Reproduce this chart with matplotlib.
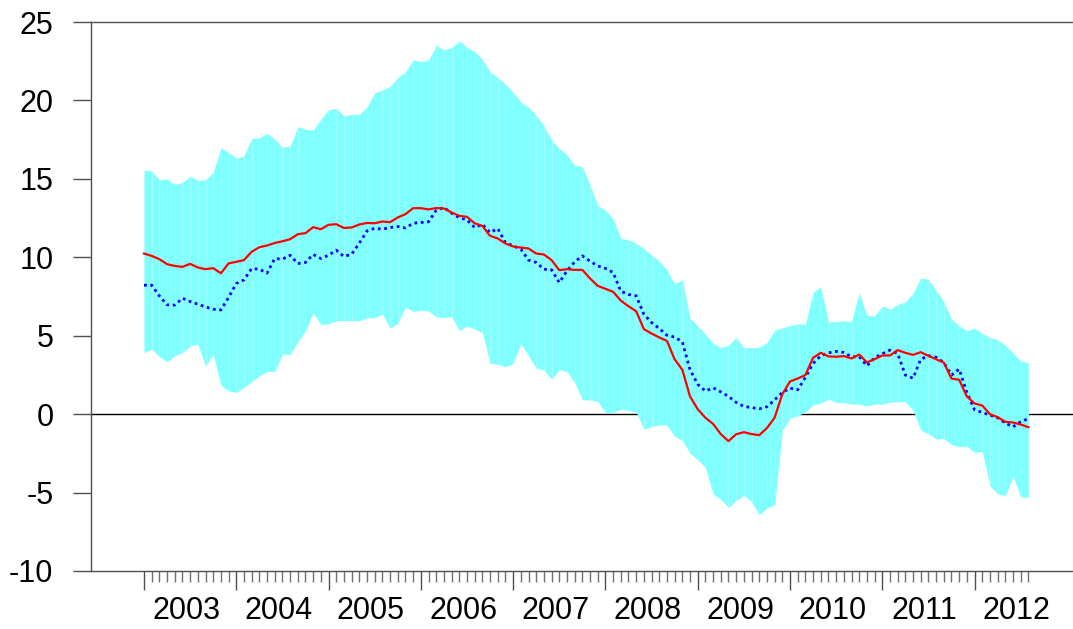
import numpy as np
import matplotlib
matplotlib.use("Agg")
from matplotlib import pyplot as plt
from matplotlib.ticker import FixedLocator, NullFormatter

plt.rcParams['font.family'] = ['Liberation Sans', 'DejaVu Sans']

# DATA: monthly, Jan 2003 .. Aug 2012
YEARS = [2003, 2004, 2005, 2006, 2007, 2008, 2009, 2010, 2011, 2012]

band_upper = [
    15.57, 15.5, 14.93, 15.0, 14.64, 14.77, 15.17, 14.91, 14.93, 15.4,
    17.0, 16.68, 16.3, 16.47, 17.57, 17.63, 17.9, 17.53, 17.0, 17.1,
    18.33, 18.16, 18.1, 18.8, 19.4, 19.5, 19.0, 19.12, 19.1, 19.59,
    20.5, 20.65, 20.9, 21.46, 21.82, 22.58, 22.48, 22.56, 23.52, 23.22,
    23.37, 23.8, 23.37, 23.11, 22.63, 21.82, 21.46, 21.03, 20.5, 19.91,
    19.55, 19.06, 18.38, 17.48, 16.93, 16.53, 15.87, 15.79, 14.6, 13.3,
    13.0, 12.45, 11.2, 11.12, 10.9, 10.55, 10.15, 9.75, 9.2, 8.3,
    8.57, 6.13, 5.63, 5.1, 4.53, 4.25, 4.38, 4.89, 4.25, 4.25,
    4.25, 4.57, 5.35, 5.5, 5.65, 5.74, 5.74, 7.75, 8.14, 5.88,
    5.91, 5.95, 5.91, 7.75, 6.27, 6.27, 6.9, 6.69, 6.99, 7.16,
    7.69, 8.69, 8.58, 7.9, 7.16, 6.05, 5.63, 5.31, 5.48, 5.16,
    4.89, 4.74, 4.4, 3.89, 3.4, 3.27,
]

band_lower = [
    3.93, 4.14, 3.68, 3.34, 3.72, 3.93, 4.35, 4.46, 3.04, 3.82,
    1.85, 1.49, 1.38, 1.7, 2.08, 2.44, 2.72, 2.72, 3.82, 3.8,
    4.6, 5.3, 6.48, 5.69, 5.78, 5.94, 5.98, 5.96, 5.95, 6.14,
    6.15, 6.38, 5.47, 5.8, 6.84, 6.55, 6.62, 6.57, 6.2, 6.15,
    6.22, 5.31, 5.63, 5.42, 5.21, 3.23, 3.19, 3.02, 3.23, 4.5,
    3.72, 2.93, 2.83, 2.23, 2.83, 2.72, 2.02, 0.91, 0.91, 0.81,
    0.1, 0.1, 0.32, 0.23, 0.13, -0.96, -0.79, -0.68, -0.7, -1.42,
    -1.68, -2.49, -2.91, -3.4, -5.1, -5.42, -5.95, -5.5, -5.18, -5.57,
    -6.42, -5.99, -5.76, -1.06, -0.25, -0.11, 0.15, 0.6, 0.7, 0.96,
    0.74, 0.74, 0.64, 0.64, 0.51, 0.64, 0.63, 0.76, 0.79, 0.79,
    0.25, -1.02, -1.25, -1.59, -1.55, -1.95, -2.08, -2.04, -2.44, -2.38,
    -4.57, -5.08, -5.2, -3.93, -5.27, -5.31,
]

red_line = [
    10.24, 10.09, 9.88, 9.56, 9.45, 9.39, 9.58, 9.35, 9.24, 9.31,
    8.98, 9.61, 9.71, 9.82, 10.35, 10.64, 10.75, 10.91, 11.02, 11.15,
    11.47, 11.54, 11.92, 11.79, 12.07, 12.11, 11.87, 11.9, 12.09, 12.19,
    12.17, 12.28, 12.24, 12.54, 12.75, 13.13, 13.13, 13.05, 13.14, 13.11,
    12.86, 12.64, 12.58, 12.17, 12.0, 11.37, 11.2, 10.88, 10.69, 10.62,
    10.56, 10.24, 10.18, 9.82, 9.18, 9.24, 9.2, 9.2, 8.65, 8.18,
    7.99, 7.8, 7.24, 6.88, 6.56, 5.42, 5.14, 4.89, 4.67, 3.5,
    2.83, 1.13, 0.32, -0.23, -0.62, -1.27, -1.72, -1.28, -1.15, -1.27,
    -1.34, -0.89, -0.23, 1.27, 2.08, 2.27, 2.49, 3.59, 3.91, 3.68,
    3.66, 3.7, 3.55, 3.8, 3.3, 3.5, 3.74, 3.74, 4.08, 3.91,
    3.78, 3.95, 3.72, 3.5, 3.29, 2.27, 2.19, 1.13, 0.68, 0.55,
    0.0, -0.19, -0.49, -0.53, -0.66, -0.83,
]

blue_line = [
    8.22, 8.22, 7.54, 6.97, 6.95, 7.39, 7.18, 7.01, 6.84, 6.69,
    6.64, 7.44, 8.33, 8.56, 9.28, 9.24, 8.99, 9.92, 9.88, 10.13,
    9.6, 9.67, 10.18, 9.92, 10.13, 10.45, 10.05, 10.2, 10.9, 11.68,
    11.85, 11.79, 11.9, 11.96, 11.87, 12.17, 12.22, 12.26, 13.0, 13.17,
    12.81, 12.53, 12.38, 11.9, 12.1, 11.58, 11.83, 10.94, 10.73, 10.52,
    9.82, 9.67, 9.24, 9.2, 8.39, 9.13, 9.71, 10.09, 9.75, 9.45,
    9.29, 9.03, 7.84, 7.63, 7.54, 6.37, 5.84, 5.46, 5.03, 4.91,
    4.61, 2.83, 1.91, 1.47, 1.68, 1.42, 1.13, 0.75, 0.49, 0.42,
    0.34, 0.47, 0.91, 1.38, 1.66, 1.55, 2.34, 3.23, 3.72, 3.91,
    4.0, 3.93, 3.65, 3.67, 3.08, 3.59, 3.85, 4.08, 3.87, 2.49,
    2.29, 3.5, 3.72, 3.63, 3.29, 2.49, 2.87, 1.38, 0.28, 0.11,
    -0.06, -0.23, -0.57, -0.81, -0.49, -0.28,
]


def main():
    months = np.arange(len(red_line))
    upper = np.array(band_upper)
    lower = np.array(band_lower)

    fig = plt.figure(figsize=(10.73, 6.29), dpi=100)
    ax = fig.add_axes([91 / 1073, 1 - 571 / 629, 1 - 91 / 1073, (571 - 22) / 629])

    ax.axhline(0, color="black", lw=1.0, zorder=1)

    ax.fill_between(months, lower, upper, color="#80ffff", lw=0, zorder=2)
    # faint seams between the monthly pieces of the band
    ax.vlines(months, lower, upper, color="#b8ffff", lw=0.4, zorder=2.5)

    ax.plot(months, blue_line, color="#0000ff", lw=2.0,
            linestyle=(0, (1, 1.3)), zorder=3)
    ax.plot(months, red_line, color="#ff0000", lw=1.6, zorder=4)

    ax.set_xlim(-6.89, 120.8)
    ax.set_ylim(-10, 25)

    ax.set_yticks(range(-10, 26, 5))
    ax.set_yticklabels([str(v) for v in range(-10, 26, 5)])

    year_starts = [12 * k for k in range(len(YEARS))]
    ax.xaxis.set_major_locator(FixedLocator(year_starts))
    ax.xaxis.set_major_formatter(NullFormatter())
    minors = [m for m in months if m % 12 != 0]
    ax.xaxis.set_minor_locator(FixedLocator(minors))

    for k, yr in enumerate(YEARS):
        ax.text(12 * k + 5.5, -0.046, str(yr), transform=ax.get_xaxis_transform(),
                ha="center", va="top", fontsize=22)

    spine_col = "#505050"
    ax.spines["right"].set_visible(False)
    for s in ("left", "top", "bottom"):
        ax.spines[s].set_color(spine_col)
        ax.spines[s].set_linewidth(1.0)

    ax.tick_params(axis="y", direction="out", length=13, width=1.0,
                   color=spine_col, labelsize=22, pad=14)
    ax.tick_params(axis="x", which="major", direction="out", length=14,
                   width=1.0, color=spine_col)
    ax.tick_params(axis="x", which="minor", direction="out", length=8,
                   width=1.0, color="#707070")

    fig.savefig("out.png", dpi=100)


if __name__ == "__main__":
    main()
